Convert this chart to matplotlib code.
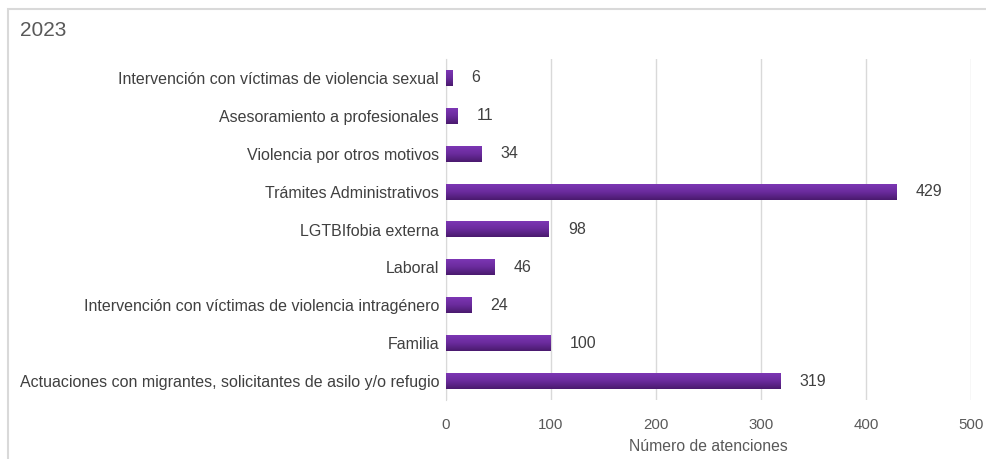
import matplotlib
matplotlib.use("Agg")
import matplotlib.pyplot as plt
import numpy as np
from matplotlib.colors import LinearSegmentedColormap
from matplotlib.patches import Rectangle

categories = [
    "Actuaciones con migrantes, solicitantes de asilo y/o refugio",
    "Familia",
    "Intervención con víctimas de violencia intragénero",
    "Laboral",
    "LGTBIfobia externa",
    "Trámites Administrativos",
    "Violencia por otros motivos",
    "Asesoramiento a profesionales",
    "Intervención con víctimas de violencia sexual",
]
values = [319, 100, 24, 46, 98, 429, 34, 11, 6]
x_ticks = [0, 100, 200, 300, 400, 500]
title = "2023"
x_label = "Número de atenciones"

plt.rcParams["font.family"] = ["Liberation Sans", "DejaVu Sans"]
text_color = "#595959"

fig = plt.figure(figsize=(9.87, 4.59), dpi=100)
ax = fig.add_axes([0.4519, 0.1285, 0.5319, 0.743])

y = np.arange(len(categories))
bars = ax.barh(y, values, height=0.42, color="none", zorder=3)

# vertical gradient inside each bar
cmap = LinearSegmentedColormap.from_list("purp", ["#4a1a6e", "#6a2b9c", "#7c36b4"])
grad = np.linspace(0, 1, 64).reshape(-1, 1)
for b in bars:
    x0, y0, w, h = b.get_x(), b.get_y(), b.get_width(), b.get_height()
    ax.imshow(grad, cmap=cmap, aspect="auto", origin="upper",
              extent=(x0, x0 + w, y0 + h, y0), zorder=3, interpolation="bilinear")

for yi, v in zip(y, values):
    ax.text(v + 18, yi, str(v), va="center", ha="left", fontsize=11.5, color="#404040")

ax.set_xlim(0, 500)
ax.set_ylim(-0.5, len(categories) - 0.5)
ax.set_yticks(y)
ax.set_yticklabels(categories, fontsize=11.5, color="#404040")
ax.set_xticks(x_ticks)
ax.set_xticklabels([str(t) for t in x_ticks], fontsize=10.8, color=text_color)
ax.tick_params(axis="both", length=0)
ax.tick_params(axis="y", pad=5)
ax.tick_params(axis="x", pad=13)
ax.set_xlabel(x_label, fontsize=11.3, color=text_color, labelpad=5)
ax.grid(axis="x", color="#d9d9d9", linewidth=1, zorder=0)
ax.set_axisbelow(True)
for s in ["top", "right", "bottom"]:
    ax.spines[s].set_visible(False)
ax.spines["left"].set_color("#d9d9d9")

fig.text(20 / 987, 1 - 31 / 459, title, fontsize=15, color=text_color, va="center", ha="left")

frame = Rectangle((8 / 987, -0.05), 1.1, 1.05 - 8.5 / 459, transform=fig.transFigure,
                  fill=False, edgecolor="#d9d9d9", linewidth=1.5)
fig.patches.append(frame)

fig.savefig("out.png", dpi=100)
